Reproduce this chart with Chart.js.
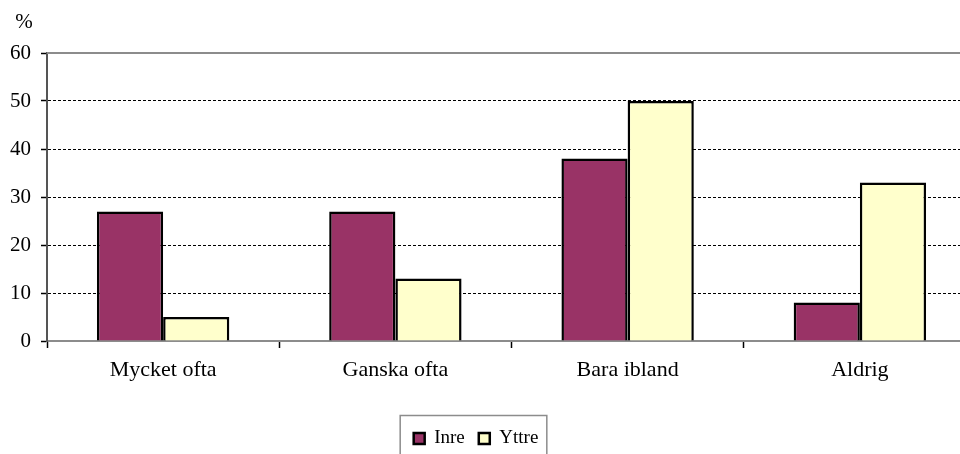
<!DOCTYPE html>
<html>
<head>
<meta charset="utf-8">
<script src="https://cdn.jsdelivr.net/npm/chart.js@4"></script>
<style>
  html, body { margin: 0; padding: 0; background: #fff; overflow: hidden; }
  #wrap { width: 976px; height: 458px; position: relative; }
</style>
</head>
<body>
<div id="wrap"><canvas id="chart"></canvas></div>
<script>
/* ── Data ── */
const CATEGORIES  = ['Mycket ofta', 'Ganska ofta', 'Bara ibland', 'Aldrig'];
const INRE        = [27, 27, 38, 8];
const YTTRE       = [5, 13, 50, 33];
const SERIES      = ['Inre', 'Yttre'];
const Y_MAX       = 60;
const Y_STEP      = 10;
const UNIT_LABEL  = '%';

/* ── Style ── */
const FONT        = '"Liberation Serif", "Times New Roman", serif';
const INRE_COLOR  = '#993366';
const YTTRE_COLOR = '#ffffcc';
const FRAME_COLOR = '#8c8c8c';

/* ── Extras: unit label, top frame line, legend box ── */
const extras = {
  id: 'extras',
  afterLayout(chart) {
    // legend sits a little left of canvas centre in the original
    const lg = chart.legend;
    lg.left -= 12;
    lg.right -= 12;
  },
  afterDraw(chart) {
    const { ctx, chartArea: a } = chart;
    ctx.save();

    // unit label
    ctx.fillStyle = '#000';
    ctx.font = '21px ' + FONT;
    ctx.textAlign = 'center';
    ctx.textBaseline = 'middle';
    ctx.fillText(UNIT_LABEL, a.left - 23, a.top - 31);

    // top frame
    ctx.strokeStyle = FRAME_COLOR;
    ctx.lineWidth = 2;
    ctx.beginPath();
    ctx.moveTo(a.left, a.top);
    ctx.lineTo(a.right, a.top);
    ctx.stroke();

    // legend frame
    const boxes = chart.legend.legendHitBoxes;
    if (boxes && boxes.length) {
      const l = Math.min(...boxes.map(b => b.left)) - 14;
      const r = Math.max(...boxes.map(b => b.left + b.width)) + 8;
      const t = Math.min(...boxes.map(b => b.top)) - 14;
      ctx.strokeStyle = FRAME_COLOR;
      ctx.lineWidth = 1.5;
      ctx.strokeRect(l + 0.5, t + 0.5, r - l, 200);
    }
    ctx.restore();
  },
};

new Chart(document.getElementById('chart'), {
  type: 'bar',
  data: {
    labels: CATEGORIES,
    datasets: [
      {
        label:           SERIES[0],
        data:            INRE,
        backgroundColor: INRE_COLOR,
        borderColor:     '#000',
        borderWidth:     2.5,
      },
      {
        label:           SERIES[1],
        data:            YTTRE,
        backgroundColor: YTTRE_COLOR,
        borderColor:     '#000',
        borderWidth:     2.5,
      },
    ],
  },
  options: {
    responsive:          true,
    maintainAspectRatio: false,
    animation:           false,
    categoryPercentage:  0.57,
    barPercentage:       1.0,
    layout: { padding: { top: 53, left: 0, right: 0, bottom: 0 } },
    plugins: {
      tooltip: { enabled: false },
      legend: {
        position: 'bottom',
        labels: {
          color:     '#000',
          font:      { family: FONT, size: 19 },
          boxWidth:  11,
          boxHeight: 11,
          padding:   14,
        },
      },
    },
    scales: {
      x: {
        offset: true,
        afterFit: s => { s.height = 74; },
        grid: {
          offset:          true,
          drawOnChartArea: false,
          tickLength:      7,
          tickColor:       '#000',
          tickWidth:       1.5,
        },
        border: { color: FRAME_COLOR, width: 2 },
        ticks: {
          color:   '#000',
          font:    { family: FONT, size: 22 },
          padding: 9,
        },
      },
      y: {
        min: 0,
        max: Y_MAX,
        afterFit: s => { s.width = 47; },
        grid: {
          color:          ctx => (ctx.tick.value === 0 || ctx.tick.value === Y_MAX) ? 'rgba(0,0,0,0)' : '#000',
          lineWidth:      1,
          tickLength:     6,
          tickColor:      '#000',
          tickWidth:      1.5,
        },
        border: { color: '#555', width: 2, dash: [3, 2] },
        ticks: {
          stepSize: Y_STEP,
          color:    '#000',
          font:     { family: FONT, size: 21 },
          padding:  10,
        },
      },
    },
  },
  plugins: [extras],
});
</script>
</body>
</html>
